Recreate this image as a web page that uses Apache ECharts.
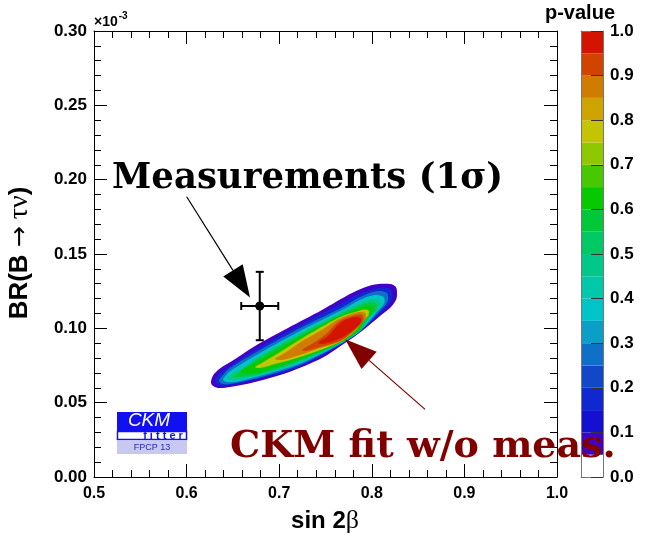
<!DOCTYPE html>
<html><head><meta charset="utf-8">
<script src="https://cdn.jsdelivr.net/npm/echarts@6/dist/echarts.min.js"></script>
<style>html,body{margin:0;padding:0;background:#fff}#c{width:658px;height:548px}</style>
</head><body><div id="c"></div>
<script>
// ---------------- data ----------------
const xTickValues = [0.5, 0.6, 0.7, 0.8, 0.9, 1.0];
const yTickValues = [0.00, 0.05, 0.10, 0.15, 0.20, 0.25, 0.30];
const pTickValues = [0.0, 0.1, 0.2, 0.3, 0.4, 0.5, 0.6, 0.7, 0.8, 0.9, 1.0];

// measurement: sin2beta and BR(B->tau nu) [x 1e-3], 1 sigma
const measX = [0.679];
const measY = [0.115];
const measErrX = [0.020];
const measErrY = [0.023];

// p-value contour levels of the CKM fit (without the measurements)
const contourLevels = [0.05, 0.1, 0.2, 0.3, 0.4, 0.5, 0.6, 0.7, 0.8, 0.9, 0.95];
const contour005 = [[0.6264,0.0646],[0.6296,0.0693],[0.6382,0.0740],[0.6490,0.0780],[0.6739,0.0881],[0.7095,0.1002],[0.7462,0.1123],[0.7786,0.1237],[0.8002,0.1291],[0.8197,0.1298],[0.8261,0.1278],[0.8272,0.1231],[0.8261,0.1190],[0.8197,0.1137],[0.8089,0.1083],[0.7894,0.0982],[0.7711,0.0901],[0.7462,0.0800],[0.7095,0.0703],[0.6739,0.0639],[0.6469,0.0605],[0.6339,0.0599],[0.6274,0.0619]];
const contour010 = [[0.6307,0.0646],[0.6339,0.0686],[0.6469,0.0746],[0.6793,0.0874],[0.7225,0.1022],[0.7657,0.1163],[0.7873,0.1234],[0.8035,0.1268],[0.8143,0.1274],[0.8207,0.1261],[0.8224,0.1231],[0.8218,0.1190],[0.8143,0.1130],[0.7894,0.0992],[0.7657,0.0888],[0.7225,0.0743],[0.6793,0.0662],[0.6469,0.0619],[0.6361,0.0615]];
const contour020 = [[0.6350,0.0646],[0.6382,0.0679],[0.6469,0.0733],[0.6793,0.0854],[0.7225,0.1002],[0.7657,0.1133],[0.7873,0.1210],[0.8013,0.1244],[0.8099,0.1251],[0.8164,0.1237],[0.8175,0.1210],[0.8170,0.1177],[0.8089,0.1116],[0.7873,0.0979],[0.7657,0.0891],[0.7225,0.0753],[0.6793,0.0669],[0.6469,0.0625],[0.6393,0.0625]];
const contour030 = [[0.6393,0.0652],[0.6436,0.0693],[0.6523,0.0733],[0.6793,0.0834],[0.7225,0.0982],[0.7657,0.1116],[0.7873,0.1190],[0.7981,0.1217],[0.8056,0.1224],[0.8121,0.1214],[0.8137,0.1197],[0.8132,0.1163],[0.8045,0.1103],[0.7873,0.0982],[0.7657,0.0894],[0.7225,0.0763],[0.6793,0.0679],[0.6523,0.0639],[0.6436,0.0639]];
const contour040 = [[0.6447,0.0666],[0.6501,0.0699],[0.6598,0.0733],[0.6793,0.0817],[0.7225,0.0968],[0.7657,0.1103],[0.7873,0.1170],[0.7948,0.1190],[0.8013,0.1197],[0.8078,0.1190],[0.8099,0.1173],[0.8089,0.1143],[0.8002,0.1089],[0.7873,0.0985],[0.7657,0.0898],[0.7225,0.0773],[0.6793,0.0686],[0.6577,0.0659],[0.6479,0.0652]];
const contour050 = [[0.6501,0.0679],[0.6577,0.0706],[0.6793,0.0804],[0.7225,0.0955],[0.7657,0.1093],[0.7873,0.1153],[0.7981,0.1173],[0.8035,0.1170],[0.8056,0.1157],[0.8045,0.1123],[0.7959,0.1069],[0.7873,0.0989],[0.7657,0.0901],[0.7225,0.0783],[0.6793,0.0696],[0.6577,0.0672],[0.6533,0.0672]];
const contour060 = [[0.6577,0.0706],[0.6631,0.0733],[0.6793,0.0787],[0.7225,0.0941],[0.7657,0.1083],[0.7873,0.1137],[0.7948,0.1150],[0.7991,0.1147],[0.8013,0.1133],[0.8002,0.1103],[0.7927,0.1056],[0.7873,0.0992],[0.7657,0.0905],[0.7225,0.0794],[0.6793,0.0706],[0.6641,0.0699]];
const contour070 = [[0.6739,0.0740],[0.6814,0.0767],[0.7009,0.0841],[0.7225,0.0925],[0.7657,0.1076],[0.7873,0.1120],[0.7916,0.1126],[0.7959,0.1123],[0.7970,0.1110],[0.7959,0.1083],[0.7894,0.1042],[0.7829,0.0989],[0.7657,0.0908],[0.7225,0.0807],[0.6955,0.0760],[0.6793,0.0733]];
const contour080 = [[0.6955,0.0794],[0.7063,0.0834],[0.7225,0.0905],[0.7441,0.0982],[0.7657,0.1066],[0.7819,0.1103],[0.7883,0.1110],[0.7927,0.1103],[0.7937,0.1089],[0.7932,0.1066],[0.7873,0.1029],[0.7786,0.0968],[0.7657,0.0911],[0.7441,0.0868],[0.7225,0.0820],[0.7030,0.0787]];
const contour090 = [[0.7246,0.0854],[0.7333,0.0888],[0.7495,0.0955],[0.7657,0.1052],[0.7786,0.1083],[0.7873,0.1093],[0.7905,0.1083],[0.7905,0.1049],[0.7851,0.1009],[0.7765,0.0962],[0.7657,0.0915],[0.7441,0.0874],[0.7279,0.0847]];
const contour095 = [[0.7419,0.0901],[0.7527,0.0948],[0.7657,0.1036],[0.7765,0.1069],[0.7840,0.1076],[0.7883,0.1066],[0.7883,0.1042],[0.7840,0.1009],[0.7754,0.0968],[0.7657,0.0931],[0.7495,0.0898]];
const contourPolygons = [contour005, contour010, contour020, contour030, contour040, contour050, contour060, contour070, contour080, contour090, contour095];

// colour palette (p-value bins of width 0.05)
const paletteBinLow = [0.00,0.05,0.10,0.15,0.20,0.25,0.30,0.35,0.40,0.45,0.50,0.55,0.60,0.65,0.70,0.75,0.80,0.85,0.90,0.95];
const paletteColors = ['#ffffff','#4200c8','#1410d2','#1028d0','#1048c8','#1070c8','#0a9ec8','#00c4c8','#00c8aa','#00c888','#00c862','#00c838','#08c800','#48c800','#90c800','#c4c400','#d0a400','#d07c00','#d04400','#d41400'];

// annotation arrows (data coordinates: from -> to)
const arrowMeasFrom = [0.6001, 0.1885];
const arrowMeasTo = [0.6685, 0.1208];
const arrowFitFrom = [0.8575, 0.0455];
const arrowFitTo = [0.7711, 0.0926];

// ---------------- chart ----------------
const SANS = 'Liberation Sans';
const chart = echarts.init(document.getElementById('c'));

function colorForLevel(i) {
  const lo = contourLevels[i];
  const hi = i + 1 < contourLevels.length ? contourLevels[i + 1] : 1.0;
  const mid = (lo + hi) / 2;
  let b = 0;
  for (let k = 0; k < paletteBinLow.length; k++) if (mid >= paletteBinLow[k]) b = k;
  return paletteColors[b];
}

function arrowGroup(api, from, to, color, headLen, headW, lw) {
  const p1 = api.coord(from), p2 = api.coord(to);
  const dx = p2[0] - p1[0], dy = p2[1] - p1[1];
  const L = Math.hypot(dx, dy), ux = dx / L, uy = dy / L;
  const bx = p2[0] - ux * headLen, by = p2[1] - uy * headLen;
  const nx = -uy, ny = ux;
  return {
    type: 'group', children: [
      {type: 'line', shape: {x1: p1[0], y1: p1[1], x2: bx, y2: by}, style: {stroke: color, lineWidth: lw}},
      {type: 'polygon', shape: {points: [[p2[0], p2[1]], [bx + nx * headW / 2, by + ny * headW / 2], [bx - nx * headW / 2, by - ny * headW / 2]]}, style: {fill: color}}
    ]
  };
}

const mainAxisCommon = {
  type: 'value', splitLine: {show: false},
  axisLine: {show: true, onZero: false, lineStyle: {color: '#000', width: 1}},
  axisTick: {show: true, inside: true, length: 13, lineStyle: {color: '#000', width: 1}},
  minorTick: {show: true, splitNumber: 5, length: 7, lineStyle: {color: '#000', width: 1}},
  z: 5
};
const labelStyle = {fontFamily: SANS, fontWeight: 'bold', fontSize: 16, color: '#000'};

const option = {
  animation: false,
  backgroundColor: '#ffffff',
  grid: [
    {left: 94, top: 31, width: 463, height: 446, show: false},
    {left: 581, top: 31, width: 22, height: 446, show: false}
  ],
  xAxis: [
    Object.assign({}, mainAxisCommon, {gridIndex: 0, position: 'bottom', min: xTickValues[0], max: xTickValues[xTickValues.length - 1], interval: 0.1,
      axisLabel: Object.assign({margin: 9, formatter: v => v.toFixed(1)}, labelStyle)}),
    Object.assign({}, mainAxisCommon, {gridIndex: 0, position: 'top', min: xTickValues[0], max: xTickValues[xTickValues.length - 1], interval: 0.1,
      axisLabel: {show: false}}),
    {gridIndex: 1, type: 'value', position: 'bottom', min: 0, max: 1, axisLine: {show: true, onZero: false, lineStyle: {color: '#777'}}, axisTick: {show: false}, axisLabel: {show: false}, splitLine: {show: false}, z: 5},
    {gridIndex: 1, type: 'value', position: 'top', min: 0, max: 1, axisLine: {show: true, onZero: false, lineStyle: {color: '#777'}}, axisTick: {show: false}, axisLabel: {show: false}, splitLine: {show: false}, z: 5}
  ],
  yAxis: [
    Object.assign({}, mainAxisCommon, {gridIndex: 0, position: 'left', min: yTickValues[0], max: yTickValues[yTickValues.length - 1], interval: 0.05,
      axisLabel: Object.assign({margin: 7, formatter: v => v.toFixed(2)}, labelStyle, {fontSize: 17})}),
    Object.assign({}, mainAxisCommon, {gridIndex: 0, position: 'right', min: yTickValues[0], max: yTickValues[yTickValues.length - 1], interval: 0.05,
      axisLabel: {show: false}}),
    {gridIndex: 1, type: 'value', position: 'right', min: pTickValues[0], max: pTickValues[pTickValues.length - 1], interval: 0.1,
      axisLine: {show: true, onZero: false, lineStyle: {color: '#777'}},
      axisTick: {show: true, inside: true, length: 12, lineStyle: {color: '#333'}},
      axisLabel: {margin: 7, fontFamily: SANS, fontWeight: 'bold', fontSize: 17, color: '#000', formatter: v => v.toFixed(1)},
      splitLine: {show: false}, z: 10},
    {gridIndex: 1, type: 'value', position: 'left', min: 0, max: 1,
      axisLine: {show: true, onZero: false, lineStyle: {color: '#777'}}, axisTick: {show: false}, axisLabel: {show: false}, splitLine: {show: false}, z: 10}
  ],
  series: [
    { // p-value contours
      type: 'custom', xAxisIndex: 0, yAxisIndex: 0, clip: true, z: 2,
      data: contourLevels.map((l, i) => [i, l]),
      renderItem: function (params, api) {
        const i = params.dataIndex;
        const pts = contourPolygons[i].map(p => api.coord(p));
        return {type: 'polygon', shape: {points: pts, smooth: 0.3}, style: {fill: colorForLevel(i), stroke: null}};
      }
    },
    { // colour bar
      type: 'custom', xAxisIndex: 2, yAxisIndex: 2, z: 2,
      data: paletteBinLow.map((v, i) => [i, v]),
      renderItem: function (params, api) {
        const i = params.dataIndex;
        const lo = paletteBinLow[i];
        const hi = i + 1 < paletteBinLow.length ? paletteBinLow[i + 1] : 1.0;
        const a = api.coord([0, hi]), b = api.coord([1, lo]);
        return {type: 'rect', shape: {x: a[0], y: a[1], width: b[0] - a[0], height: b[1] - a[1]}, style: {fill: paletteColors[i]}};
      }
    },
    { // measurement with 1 sigma errors
      type: 'custom', xAxisIndex: 0, yAxisIndex: 0, z: 4,
      data: measX.map((x, i) => [x, measY[i], measErrX[i], measErrY[i]]),
      renderItem: function (params, api) {
        const x = api.value(0), y = api.value(1), ex = api.value(2), ey = api.value(3);
        const c = api.coord([x, y]), l = api.coord([x - ex, y]), r = api.coord([x + ex, y]);
        const t = api.coord([x, y + ey]), b = api.coord([x, y - ey]);
        const st = {stroke: '#000', lineWidth: 2};
        const cap = 4;
        return {type: 'group', children: [
          {type: 'line', shape: {x1: l[0], y1: l[1], x2: r[0], y2: r[1]}, style: st},
          {type: 'line', shape: {x1: t[0], y1: t[1], x2: b[0], y2: b[1]}, style: st},
          {type: 'line', shape: {x1: l[0], y1: l[1] - cap, x2: l[0], y2: l[1] + cap}, style: st},
          {type: 'line', shape: {x1: r[0], y1: r[1] - cap, x2: r[0], y2: r[1] + cap}, style: st},
          {type: 'line', shape: {x1: t[0] - cap, y1: t[1], x2: t[0] + cap, y2: t[1]}, style: st},
          {type: 'line', shape: {x1: b[0] - cap, y1: b[1], x2: b[0] + cap, y2: b[1]}, style: st},
          {type: 'circle', shape: {cx: c[0], cy: c[1], r: 4.5}, style: {fill: '#000'}}
        ]};
      }
    },
    { // annotation arrows
      type: 'custom', xAxisIndex: 0, yAxisIndex: 0, clip: false, z: 6,
      data: [[0], [1]],
      renderItem: function (params, api) {
        if (params.dataIndex === 0) return arrowGroup(api, arrowMeasFrom, arrowMeasTo, '#000000', 32, 23, 1.2);
        return arrowGroup(api, arrowFitFrom, arrowFitTo, '#800000', 32, 23, 1.2);
      }
    }
  ],
  graphic: [
    {type: 'text', x: 94, y: 20, style: {
      text: '{a|×10}{b|-3}', verticalAlign: 'middle', rich: {
        a: {fontFamily: SANS, fontWeight: 'bold', fontSize: 14, fill: '#000', verticalAlign: 'bottom'},
        b: {fontFamily: SANS, fontWeight: 'bold', fontSize: 10, fill: '#000', verticalAlign: 'top', padding: [0, 0, 8, 1]}
      }}},
    {type: 'text', x: 325, y: 521, style: {
      text: '{a|sin 2}{b|β}', align: 'center', verticalAlign: 'middle', rich: {
        a: {fontFamily: SANS, fontWeight: 'bold', fontSize: 24, fill: '#000'},
        b: {fontFamily: 'Liberation Serif', fontSize: 26, fill: '#000'}
      }}},
    {type: 'text', x: 20, y: 253, rotation: Math.PI / 2, style: {
      text: '{a|BR(B }{c|→}{b| τν}{a|)}', align: 'center', verticalAlign: 'middle', rich: {
        a: {fontFamily: SANS, fontWeight: 'bold', fontSize: 26, fill: '#000'},
        c: {fontFamily: 'DejaVu Sans', fontSize: 25, fill: '#000'},
        b: {fontFamily: 'Liberation Serif', fontSize: 28, fill: '#000'}
      }}},
    {type: 'text', x: 580, y: 13, style: {text: 'p-value', font: 'bold 20px "Liberation Sans"', fill: '#000', align: 'center', verticalAlign: 'middle'}},
    {type: 'text', x: 112, y: 179, z: 20, style: {text: 'Measurements (1σ)', font: 'bold 35.5px "DejaVu Serif"', fill: '#000', align: 'left', verticalAlign: 'middle'}},
    {type: 'text', x: 230, y: 447, z: 20, style: {text: 'CKM fit w/o meas.', font: 'bold 38px "DejaVu Serif"', fill: '#800000', align: 'left', verticalAlign: 'middle'}},
    // CKMfitter logo
    {type: 'rect', shape: {x: 117, y: 412, width: 70, height: 19}, style: {fill: '#1010f0'}},
    {type: 'text', x: 149, y: 421, style: {text: 'CKM', font: 'italic 19px "Liberation Sans"', fill: '#ffffff', align: 'center', verticalAlign: 'middle'}},
    {type: 'rect', shape: {x: 117.5, y: 431.5, width: 69, height: 8}, style: {fill: '#ffffff', stroke: '#1010f0', lineWidth: 1.5}},
    {type: 'text', x: 163, y: 436, style: {text: 'f i t t e r', font: 'bold 11px "Liberation Sans"', fill: '#1010f0', align: 'center', verticalAlign: 'middle'}},
    {type: 'rect', shape: {x: 117, y: 441, width: 70, height: 13}, style: {fill: '#c8c8f0'}},
    {type: 'text', x: 152, y: 447.5, style: {text: 'FPCP 13', font: '9px "Liberation Sans"', fill: '#2828c8', align: 'center', verticalAlign: 'middle'}}
  ]
};
chart.setOption(option);
</script>
</body></html>
